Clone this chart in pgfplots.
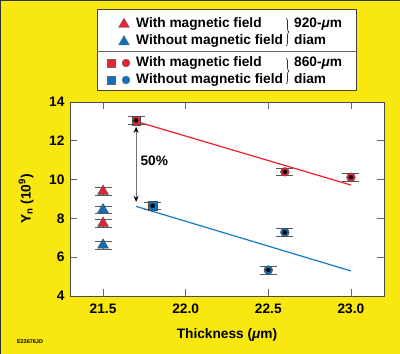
\documentclass[border=0pt]{standalone}
\usepackage{pgfplots}
\pgfplotsset{compat=1.18}
\usepackage{fontspec}
\setmainfont{Liberation Sans}
\usetikzlibrary{decorations.pathreplacing,arrows.meta}
\definecolor{bgyellow}{RGB}{248,232,16}
\definecolor{mred}{RGB}{228,36,52}
\definecolor{mblue}{RGB}{16,112,186}
\definecolor{lred}{RGB}{236,32,44}
\definecolor{lblue}{RGB}{20,124,200}
\begin{document}
\begin{tikzpicture}[x=1pt,y=1pt,font=\fontsize{13.7}{16}\selectfont\bfseries]
\useasboundingbox (0,0) rectangle (400,354);
\fill[bgyellow] (0,0) rectangle (400,354);
\draw[black!80,line width=1.5pt] (0,0) -- (0,354) -- (400,354);
\node[font=\fontsize{5.5}{6}\selectfont\bfseries] at (30,12) {E23676JD};
\begin{axis}[
  at={(70pt,58pt)}, anchor=south west, scale only axis,
  width=314pt, height=194pt,
  xmin=21.3, xmax=23.2, ymin=4, ymax=14,
  xtick={21.5,22,22.5,23},
  xticklabels={21.5,22.0,22.5,23.0},
  ytick={4,6,8,10,12,14},
  tick align=inside, major tick length=7pt,
  tick style={black!60,line width=0.8pt},
  axis line style={black!70,line width=0.9pt},
  axis background/.style={fill=white},
  /pgf/number format/assume math mode=true,
  ticklabel style={font=\fontsize{13.7}{16}\selectfont\bfseries},
  xticklabel style={yshift=-4pt},
  yticklabel style={xshift=-2pt},
  xlabel={Thickness ({\itshape μ}m)},
  ylabel={Y\textsubscript{n} (10\textsuperscript{9})},
  label style={font=\fontsize{13.7}{16}\selectfont\bfseries},
  xlabel style={yshift=-8pt},
  ylabel style={yshift=9pt},
  clip=false,
]
% fit lines
\addplot[lred,line width=1.2pt] coordinates {(21.7,13.0) (23.0,9.72)};
\addplot[lblue,line width=1.2pt] coordinates {(21.7,8.62) (23.0,5.29)};
% 50% arrow
\draw[black!55,line width=1pt,{Stealth[black,length=6pt,width=5pt]}-{Stealth[black,length=6pt,width=5pt]}] (axis cs:21.7,12.72) -- (axis cs:21.7,8.85);
\node at (axis cs:21.81,10.95) {50\%};
% error bars (behind markers)
\addplot[only marks,mark=none,
  error bars/.cd, y dir=both, y explicit,
  error bar style={black!65,line width=0.5pt},
  error mark options={black!65,line width=0.5pt,mark size=8.5pt,rotate=90}]
  coordinates {
  (21.5,9.4) +- (0,0.2)
  (21.5,7.75) +- (0,0.2)
  (21.5,8.45) +- (0,0.2)
  (21.5,6.63) +- (0,0.2)
  (21.7,13.05) +- (0,0.19)
  (21.8,8.65) +- (0,0.19)
  (22.6,10.4) +- (0,0.2)
  (23.0,10.12) +- (0,0.2)
  (22.6,7.28) +- (0,0.2)
  (22.5,5.34) +- (0,0.2)
  };
% triangles 920 um
\addplot[only marks,mark=triangle*,mark size=6.2pt,mark options={fill=mred,draw=black!70,line width=0.4pt}] coordinates {(21.5,9.4) (21.5,7.75)};
\addplot[only marks,mark=triangle*,mark size=6.2pt,mark options={fill=mblue,draw=black!70,line width=0.4pt}] coordinates {(21.5,8.45) (21.5,6.63)};
% squares 860 um
\addplot[only marks,mark=square*,mark size=4.3pt,mark options={fill=mred,draw=black!70,line width=0.4pt}] coordinates {(21.7,13.05)};
\addplot[only marks,mark=square*,mark size=4.3pt,mark options={fill=mblue,draw=black!70,line width=0.4pt}] coordinates {(21.8,8.65)};
% circles 860 um
\addplot[only marks,mark=*,mark size=4.4pt,mark options={fill=mred,draw=black!70,line width=0.4pt}] coordinates {(22.6,10.4) (23.0,10.12)};
\addplot[only marks,mark=*,mark size=4.4pt,mark options={fill=mblue,draw=black!70,line width=0.4pt}] coordinates {(22.6,7.28) (22.5,5.34)};
% vertical lines of the error bars, visible through the markers
\addplot[only marks,mark=none,
  error bars/.cd, y dir=both, y explicit,
  error bar style={black!70,line width=0.5pt},
  error mark=none]
  coordinates {
  (21.7,13.05) +- (0,0.19)
  (21.8,8.65) +- (0,0.19)
  (22.6,10.4) +- (0,0.2)
  (23.0,10.12) +- (0,0.2)
  (22.6,7.28) +- (0,0.2)
  (22.5,5.34) +- (0,0.2)
  };
\end{axis}
% legend box
\filldraw[fill=white,draw=black!75,line width=1pt] (97,263) rectangle (356,344);
\draw[black!60,line width=1pt] (97,302.3) -- (356,302.3);
\filldraw[fill=mred,draw=black!60,line width=0.3pt] (118.5,326.5) -- (129.5,326.5) -- (124,336) -- cycle;
\filldraw[fill=mblue,draw=black!60,line width=0.3pt] (118.5,309) -- (129.5,309) -- (124,318.5) -- cycle;
\filldraw[fill=mred,draw=black!60,line width=0.3pt] (107,287) rectangle (115,295);
\filldraw[fill=mred,draw=black!60,line width=0.3pt] (126,291) circle (4);
\filldraw[fill=mblue,draw=black!60,line width=0.3pt] (107,270) rectangle (115,278);
\filldraw[fill=mblue,draw=black!60,line width=0.3pt] (126,274) circle (4);
\node[anchor=base west,inner sep=0] at (136,326.7) {With magnetic field};
\node[anchor=base west,inner sep=0] at (136,309) {Without magnetic field};
\node[anchor=base west,inner sep=0] at (136,287.3) {With magnetic field};
\node[anchor=base west,inner sep=0] at (136,270.7) {Without magnetic field};
\draw[black!80,line width=0.7pt,decorate,decoration={brace,amplitude=3pt}] (286,336) -- (286,308);
\draw[black!80,line width=0.7pt,decorate,decoration={brace,amplitude=3pt}] (286,296) -- (286,270);
\node[anchor=base west,inner sep=0] at (294,326.7) {920-{\itshape μ}m};
\node[anchor=base west,inner sep=0] at (294,309) {diam};
\node[anchor=base west,inner sep=0] at (294,287.3) {860-{\itshape μ}m};
\node[anchor=base west,inner sep=0] at (294,270.7) {diam};
\end{tikzpicture}
\end{document}
